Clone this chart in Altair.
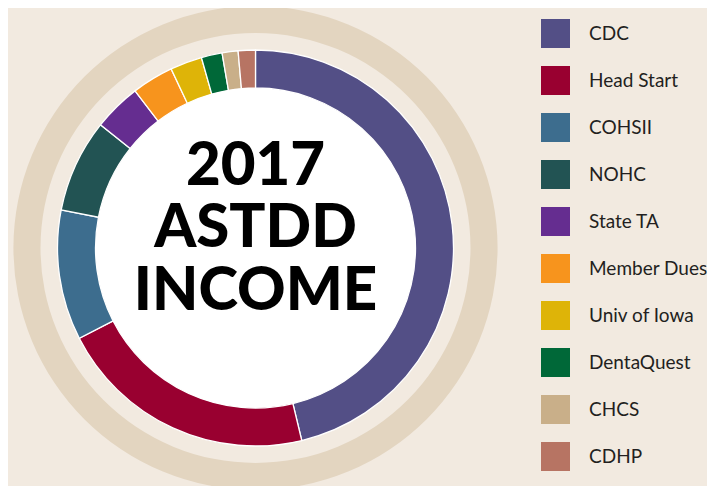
import altair as alt
import pandas as pd

sources = ["CDC", "Head Start", "COHSII", "NOHC", "State TA", "Member Dues",
           "Univ of Iowa", "DentaQuest", "CHCS", "CDHP"]
shares = [46.2, 21.2, 10.6, 7.6, 3.9, 3.4, 2.6, 1.7, 1.3, 1.4]
colors = ["#534F86", "#990030", "#3D6D8E", "#225353", "#652D90", "#F7941D",
          "#DEB408", "#006838", "#C9AF89", "#B77463"]
title_lines = ["2017", "ASTDD", "INCOME"]

W, H = 495, 476
BG = "#F2EAE0"

df = pd.DataFrame({"source": sources, "share": shares, "rank": list(range(len(sources)))})
one = pd.DataFrame({"v": [1]})
txt = pd.DataFrame({"t": ["\n".join(title_lines)]})

ring = alt.Chart(one).mark_arc(innerRadius=215, outerRadius=242, color="#E3D5C0").encode(
    theta=alt.Theta("v:Q")
)
disc = alt.Chart(one).mark_arc(outerRadius=160, color="white").encode(
    theta=alt.Theta("v:Q")
)
donut = alt.Chart(df).mark_arc(innerRadius=160, outerRadius=198, stroke="white", strokeWidth=1.3).encode(
    theta=alt.Theta("share:Q", stack=True),
    order=alt.Order("rank:Q"),
    color=alt.Color(
        "source:N",
        sort=sources,
        scale=alt.Scale(domain=sources, range=colors),
        legend=alt.Legend(
            orient="none", legendX=533, legendY=9, title=None,
            symbolType="square", symbolSize=841, symbolStrokeWidth=0,
            symbolOpacity=1,
            labelFont="Lato", labelFontSize=19, labelColor="#231F20",
            labelOffset=19, rowPadding=18, padding=0, labelLimit=200,
        ),
    ),
)
label = alt.Chart(txt).mark_text(
    font="Lato", fontWeight=900, fontSize=60, lineBreak="\n", lineHeight=62.5,
    align="center", baseline="middle", color="black",
).encode(text="t:N", x=alt.value(W / 2), y=alt.value(H / 2 - 81.5))

chart = alt.layer(ring, disc, donut, label).resolve_scale(theta="independent").properties(
    width=W, height=H,
    padding={"left": 0, "top": 2, "right": 204, "bottom": 0},
    autosize=alt.AutoSizeParams(type="none"),
    background=BG,
).configure_view(stroke=None)

chart.save("out.html", embed_options={"renderer": "svg", "actions": False})
